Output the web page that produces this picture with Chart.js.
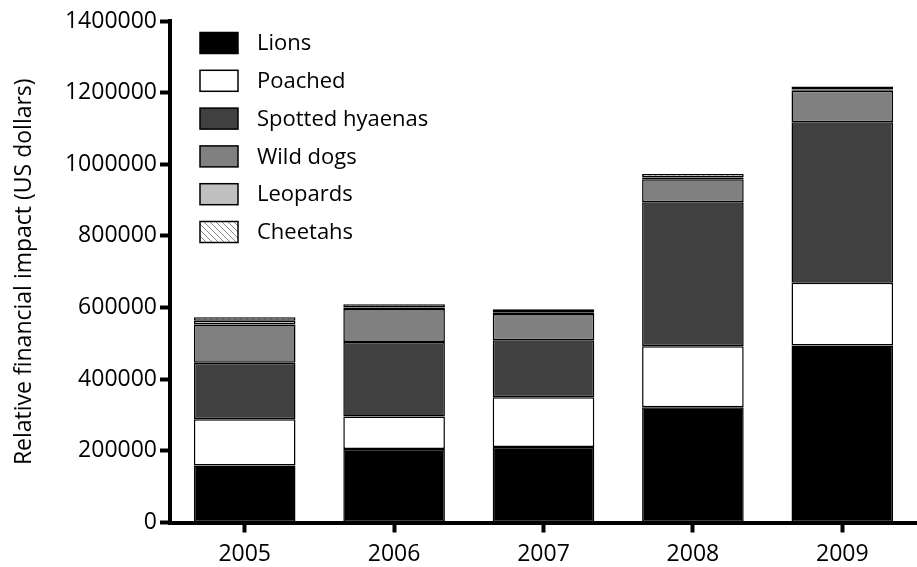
<!DOCTYPE html>
<html>
<head>
<meta charset="utf-8">
<script src="https://cdn.jsdelivr.net/npm/chart.js@4/dist/chart.umd.min.js"></script>
<style>
    html, body { margin: 0; padding: 0; background: #fff; }
    .wrap { width: 917px; height: 567px; position: relative; }
</style>
</head>
<body>
<div class="wrap"><canvas id="chartImpacto"></canvas></div>
<script>
// ===== Dados =====
const anos = ['2005', '2006', '2007', '2008', '2009'];
const lions    = [159000, 205000, 211000, 322000, 494000];
const poached  = [129000,  91000, 139000, 170000, 175000];
const hyaenas  = [158000, 208000, 159000, 402000, 448000];
const wildDogs = [107000,  92000,  73000,  64000,  88000];
const leopards = [ 10000,   4000,   5000,   5000,   4000];
const cheetahs = [ 10000,   9000,   8000,  10000,   8000];
const yTicks = [0, 200000, 400000, 600000, 800000, 1000000, 1200000, 1400000];

const FONTE = '"Open Sans", "DejaVu Sans", sans-serif';

// padrão hachurado (cheetahs)
function criarHachura() {
    const c = document.createElement('canvas');
    c.width = 6; c.height = 6;
    const g = c.getContext('2d');
    g.fillStyle = '#fff';
    g.fillRect(0, 0, 6, 6);
    g.strokeStyle = '#8a8a8a';
    g.lineWidth = 1;
    g.beginPath();
    g.moveTo(-1, -1); g.lineTo(7, 7);
    g.moveTo(-4, 2); g.lineTo(4, 10);
    g.moveTo(2, -4); g.lineTo(10, 4);
    g.stroke();
    return g.createPattern(c, 'repeat');
}
const hachura = criarHachura();

// legenda desenhada dentro da área do gráfico
const legendaPlugin = {
    id: 'legendaInterna',
    afterDraw(chart) {
        const { ctx, chartArea } = chart;
        const x0 = chartArea.left + 30;
        const y0 = chartArea.top + 22;
        const passo = 37.8;
        ctx.save();
        ctx.font = '22px ' + FONTE;
        ctx.textBaseline = 'middle';
        chart.data.datasets.forEach((ds, i) => {
            const y = y0 + i * passo;
            ctx.fillStyle = ds.backgroundColor;
            ctx.fillRect(x0, y - 10.5, 38, 21);
            ctx.strokeStyle = '#000';
            ctx.lineWidth = 1.5;
            ctx.strokeRect(x0, y - 10.5, 38, 21);
            ctx.fillStyle = '#000';
            ctx.fillText(ds.label, x0 + 57, y + 1);
        });
        ctx.restore();
    }
};

const series = [
    { label: 'Lions', data: lions, cor: '#000000' },
    { label: 'Poached', data: poached, cor: '#ffffff' },
    { label: 'Spotted hyaenas', data: hyaenas, cor: '#404040' },
    { label: 'Wild dogs', data: wildDogs, cor: '#808080' },
    { label: 'Leopards', data: leopards, cor: '#c0c0c0' },
    { label: 'Cheetahs', data: cheetahs, cor: hachura }
];

new Chart(document.getElementById('chartImpacto'), {
    type: 'bar',
    data: {
        labels: anos,
        datasets: series.map(s => ({
            label: s.label,
            data: s.data,
            backgroundColor: s.cor,
            borderColor: '#000',
            borderWidth: 1.5,
            borderSkipped: false,
            categoryPercentage: 1,
            barPercentage: 0.68
        }))
    },
    options: {
        responsive: true,
        maintainAspectRatio: false,
        animation: false,
        layout: { padding: { top: 21, right: 0, bottom: 0, left: 0 } },
        plugins: {
            legend: { display: false },
            tooltip: { enabled: false }
        },
        scales: {
            x: {
                stacked: true,
                offset: true,
                grid: { display: true, drawOnChartArea: false, offset: false, tickLength: 10, tickWidth: 4, tickColor: '#000' },
                border: { display: true, color: '#000', width: 4 },
                ticks: { color: '#000', font: { family: FONTE, size: 23 }, padding: 8, maxRotation: 0 },
                afterFit(scale) { scale.height = 44.5; }
            },
            y: {
                stacked: true,
                min: 0,
                max: 1400000,
                afterBuildTicks(scale) { scale.ticks = yTicks.map(v => ({ value: v })); },
                grid: { display: true, drawOnChartArea: false, tickLength: 10, tickWidth: 4, tickColor: '#000' },
                border: { display: true, color: '#000', width: 4 },
                ticks: { color: '#000', font: { family: FONTE, size: 23 }, padding: 3, callback: v => String(v) },
                title: {
                    display: true,
                    text: 'Relative financial impact (US dollars)',
                    color: '#000',
                    font: { family: FONTE, size: 23 },
                    padding: { top: 11, bottom: 0 }
                },
                afterFit(scale) { scale.width = 170; }
            }
        }
    },
    plugins: [legendaPlugin]
});
</script>
</body>
</html>
